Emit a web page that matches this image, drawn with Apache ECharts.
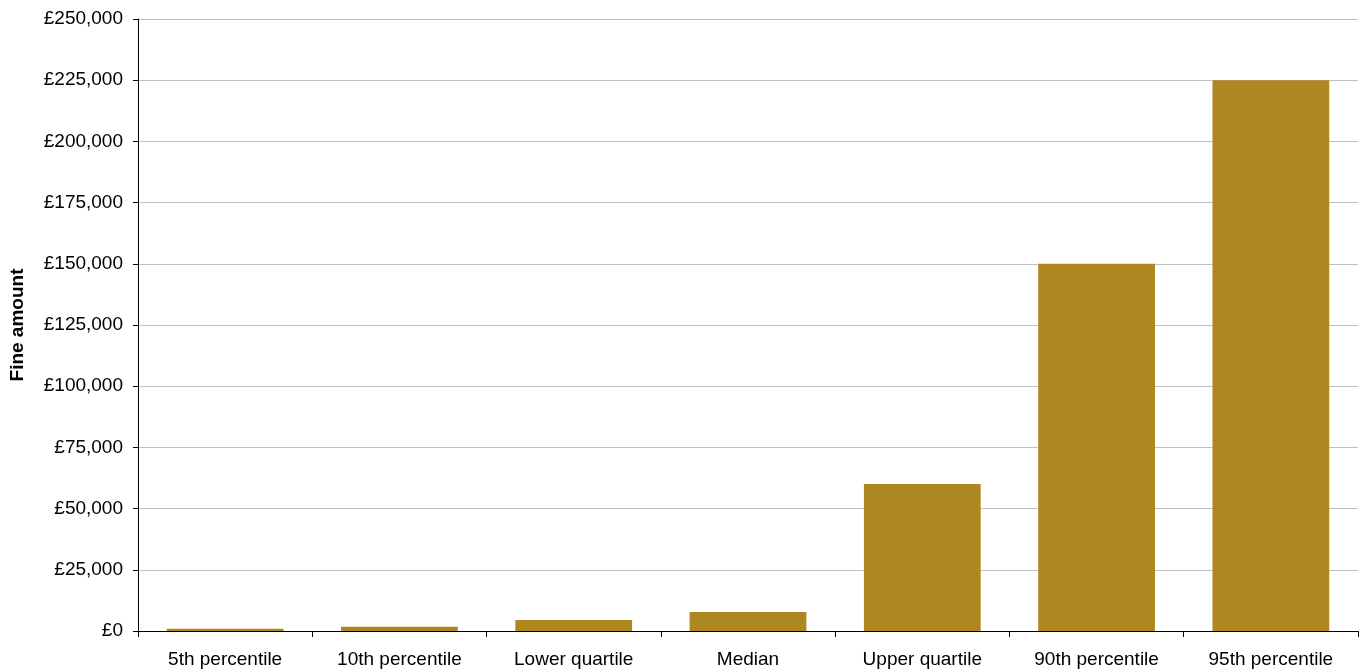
<!DOCTYPE html>
<html>
<head>
<meta charset="utf-8">
<script src="https://cdn.jsdelivr.net/npm/echarts@6/dist/echarts.min.js"></script>
<style>html,body{margin:0;padding:0;background:#fff}#c{width:1363px;height:671px}</style>
</head>
<body>
<div id="c"></div>
<script>
const categories = ["5th percentile","10th percentile","Lower quartile","Median","Upper quartile","90th percentile","95th percentile"];
const fineAmounts = [950, 1700, 4500, 7800, 60000, 150000, 225000];
const yAxisTitle = "Fine amount";

const chart = echarts.init(document.getElementById('c'), null, {renderer:'canvas'});
const font = "'Liberation Sans', Arial, sans-serif";
chart.setOption({
  animation:false,
  backgroundColor:'#ffffff',
  grid:{left:138, right:5, top:19, bottom:40, containLabel:false},
  xAxis:{
    type:'category', data:categories,
    axisLine:{lineStyle:{color:'#000', width:1}},
    axisTick:{show:true, alignWithLabel:false, length:6, lineStyle:{color:'#000'}},
    axisLabel:{color:'#000', fontFamily:font, fontSize:19, margin:19, interval:0}
  },
  yAxis:{
    type:'value', min:0, max:250000, interval:25000,
    name:yAxisTitle, nameLocation:'middle', nameGap:111, nameRotate:90,
    nameTextStyle:{color:'#000', fontFamily:font, fontSize:19, fontWeight:'bold'},
    axisLine:{show:true, lineStyle:{color:'#000', width:1}},
    axisTick:{show:true, length:5, lineStyle:{color:'#000'}},
    splitLine:{show:true, lineStyle:{color:'#c0c0c0', width:1}},
    axisLabel:{color:'#000', fontFamily:font, fontSize:19, margin:15,
      formatter:v=>'£'+v.toLocaleString('en-GB')}
  },
  series:[{
    type:'bar', data:fineAmounts, barWidth:'67%',
    itemStyle:{color:'#AE8720'}
  }]
});
</script>
</body>
</html>
